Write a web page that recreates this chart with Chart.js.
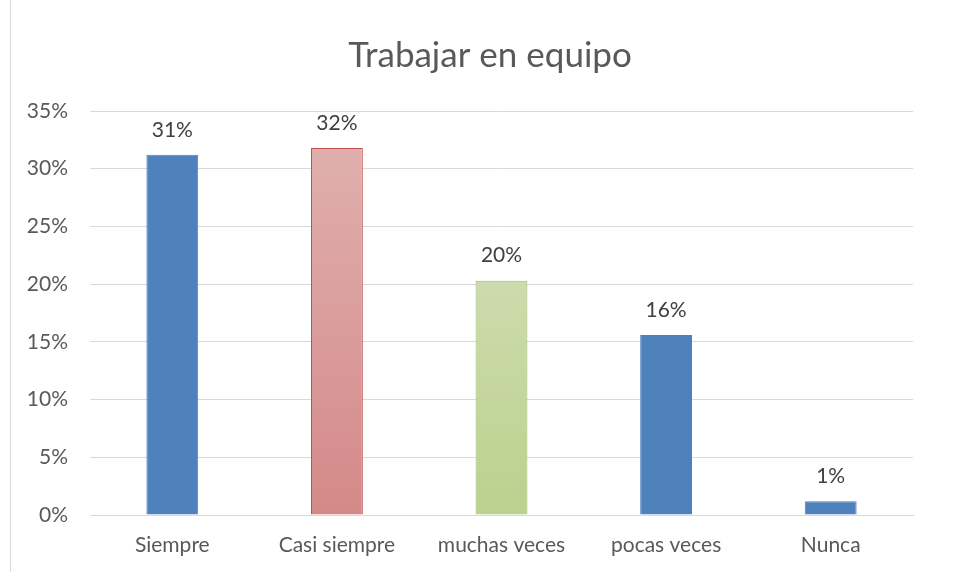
<!DOCTYPE html>
<html>
<head>
<meta charset="utf-8">
<script src="https://cdn.jsdelivr.net/npm/chart.js@4"></script>
<style>
  html, body { margin: 0; padding: 0; background: #fff; }
  #wrap { position: relative; width: 959px; height: 572px; }
  #frame { position: absolute; left: 10px; top: -2px; width: 960px; height: 580px; border-left: 1px solid #d9d9d9; }
  canvas { position: absolute; left: 0; top: 0; }
</style>
</head>
<body>
<div id="wrap">
  <div id="frame"></div>
  <canvas id="c" width="959" height="572"></canvas>
</div>
<script>
'use strict';

var categories = ['Siempre', 'Casi siempre', 'muchas veces', 'pocas veces', 'Nunca'];
var values = [31.2, 31.8, 20.3, 15.6, 1.2];
var valueLabels = ['31%', '32%', '20%', '16%', '1%'];
var yTicks = [0, 5, 10, 15, 20, 25, 30, 35];

var FONT = 'Lato, "Open Sans", sans-serif';

function fillFor(ctx) {
    var chart = ctx.chart;
    var area = chart.chartArea;
    if (!area) return '#4f81bd';
    var c = chart.ctx;
    if (ctx.dataIndex === 1) {
        var g = c.createLinearGradient(0, area.top + 37, 0, area.bottom);
        g.addColorStop(0, '#dfafae');
        g.addColorStop(1, '#d48988');
        return g;
    }
    if (ctx.dataIndex === 2) {
        var g2 = c.createLinearGradient(0, area.top + 170, 0, area.bottom);
        g2.addColorStop(0, '#cddbad');
        g2.addColorStop(1, '#bbd18e');
        return g2;
    }
    return '#4f81bd';
}

var borders = ['#4f81bd', '#c0504d', '#9bbb59', '#4f81bd', '#4f81bd'];

var labelPlugin = {
    id: 'valueLabels',
    afterDatasetsDraw: function(chart) {
        var c = chart.ctx;
        var meta = chart.getDatasetMeta(0);
        c.save();
        c.font = '21px ' + FONT;
        c.fillStyle = '#404040';
        c.textAlign = 'center';
        c.textBaseline = 'middle';
        meta.data.forEach(function(bar, i) {
            c.fillText(valueLabels[i], bar.x, bar.y - 25);
        });
        c.restore();
    }
};

var titlePlugin = {
    id: 'topTitle',
    afterDraw: function(chart) {
        var c = chart.ctx;
        c.save();
        c.font = '35px ' + FONT;
        c.fillStyle = '#595959';
        c.textAlign = 'center';
        c.textBaseline = 'middle';
        c.fillText('Trabajar en equipo', 490, 56);
        c.restore();
    }
};

new Chart(document.getElementById('c').getContext('2d'), {
    type: 'bar',
    data: {
        labels: categories,
        datasets: [{
            data: values,
            backgroundColor: fillFor,
            borderColor: borders,
            borderWidth: 1,
            borderSkipped: 'bottom',
            categoryPercentage: 1,
            barPercentage: 0.315
        }]
    },
    options: {
        responsive: false,
        animation: false,
        layout: { padding: { top: 111, right: 46, left: 0, bottom: 0 } },
        plugins: {
            legend: { display: false },
            tooltip: { enabled: false }
        },
        scales: {
            x: {
                grid: { display: false },
                border: { color: '#d9d9d9', width: 1 },
                ticks: { color: '#595959', font: { family: FONT, size: 21 }, padding: 10 },
                afterFit: function(s) { s.height = 57; }
            },
            y: {
                min: 0,
                max: 35,
                afterBuildTicks: function(s) {
                    s.ticks = yTicks.map(function(v) { return { value: v }; });
                },
                grid: { color: '#d9d9d9', lineWidth: 1, drawTicks: false },
                border: { display: false },
                ticks: {
                    color: '#595959',
                    font: { family: FONT, size: 21 },
                    padding: 22,
                    callback: function(v) { return v + '%'; }
                },
                afterFit: function(s) { s.width = 90; }
            }
        }
    },
    plugins: [labelPlugin, titlePlugin]
});
</script>
</body>
</html>
